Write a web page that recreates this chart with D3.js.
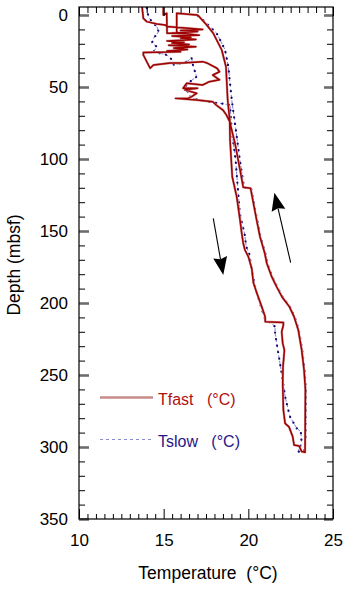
<!DOCTYPE html>
<html><head><meta charset="utf-8">
<script src="https://cdn.jsdelivr.net/npm/d3@7"></script>
<style>
body{margin:0;background:#fff}
svg{display:block}
text{font-family:"Liberation Sans",Arial,Helvetica,sans-serif}
</style>
</head><body>
<svg id="c" width="349" height="590"></svg>
<script>
// ---- data (depth in mbsf, temperature in °C) ----
const fastDownDepth = [-6,2.3,4.6,6.2,7,8,9.5,10,10.8,11.5,12.5,13,14,14.6,15.5,16,17,18,19,19.5,20.5,21,22,23,24,25,25.5,26,27.8,37,34.7,33.3,33.3,32.4,33.3,37,39.4,41.7,45,46.3,48.6,47.4,50.9,50.9,52,54.4,56.7,57.9,57.9,59,60.2,62.5,66,69.4,74,86.8,112.3,126,142.4,151.6,158.5,163.2,167.8,176,186,193,202.5,209.5,213,213.5,215.3,220,228,232.6,244,255.8,274.3,283.6,286,292.8,298.6,299.3,303.2,303.7];
const fastDownTemp  = [13.72,13.8,14.0,14.6,15.1,15.2,16.8,17.3,16.0,17.0,15.5,16.3,17.1,15.5,16.6,16.0,16.9,15.2,16.2,15.5,16.5,15.3,16.9,15.6,16.4,15.2,16.0,13.8,13.8,14.2,14.4,15.4,16.1,17.3,17.55,18.15,18.3,17.9,18.3,17.7,17.3,16.36,16.15,17.0,16.25,16.95,16.65,16.45,15.7,16.95,17.9,18.1,18.5,18.7,18.9,18.92,19.05,19.31,19.51,19.61,19.7,19.8,20.0,20.2,20.3,20.5,20.79,20.99,21.0,22.07,22.07,21.97,22.03,22.13,22.05,22.03,22.07,22.17,22.4,22.62,22.7,23.0,23.15,23.35];
const fastUpDepth = [303.7,260,246.5,232.6,218.8,209.5,202.5,196,188.7,181.7,172.4,165.5,154,142.4,120.3,119.7,107.6,89,75.2,59,35.9,24.3,12.7,6.9,0.5,0,-1.2,12.7,12.7,-1.2,0,-6];
const fastUpTemp  = [23.35,23.37,23.29,23.15,22.95,22.7,22.42,22.0,21.67,21.38,21.09,20.97,20.69,20.49,20.13,19.7,19.51,19.21,18.92,18.78,18.68,18.43,17.93,17.54,17.05,16.97,15.77,15.77,15.2,15.18,14.98,14.98];

const slowDownDepth = [-5,1.2,4.6,8.1,11.6,16.2,19.7,22,25.5,27.8,31.2,34.7,32.4,30,35.9,42.8,46.3,49.8,54.4,57.9,60.2,61.3,62.5,68.3,80,101,138,152,161,165.5,177,188.7,200.2,210,212.5,214,216.5,221,235,248.8,265,279,287,289.4,297.4,301,303.2];
const slowDownTemp  = [14.0,14.1,14.3,14.6,14.7,14.4,14.3,14.6,14.4,15.2,15.5,15.6,16.36,16.65,16.75,16.95,16.55,16.26,16.46,16.65,17.54,18.33,18.92,18.95,19.02,19.25,19.5,19.78,19.88,20.05,20.2,20.4,20.69,20.95,21.1,21.38,21.58,21.58,21.77,21.97,22.17,22.46,22.86,23.1,23.15,23.0,22.95];
const slowUpDepth = [303,295,260,246.5,232.6,218.8,209.5,202.5,196,188.7,181.7,172.4,165.5,154,142.4,120.3,120,100.7,75.2,59,36,24,12.7,3.5,0];
const slowUpTemp  = [23.3,23.38,23.4,23.32,23.18,22.98,22.73,22.45,22.03,21.7,21.41,21.12,21.0,20.72,20.52,20.16,19.75,19.5,19.21,19.02,18.82,18.62,18.13,17.33,16.95];

const xMajor = [10,15,20,25];
const yMajor = [0,50,100,150,200,250,300,350];
const legendItems = ["Tfast", "Tslow"];
const legendUnit = "(°C)";
// annotation arrows: [tempStart, depthStart, tempEnd, depthEnd]
const arrowDown = [17.93,141.2,18.52,180.6];
const arrowUp = [22.5,172,21.54,123.4];

// ---- layout ----
const L = 79, R = 333, T0 = 7, B = 519;
const svg = d3.select("#c");
const x = d3.scaleLinear().domain([10,25]).range([L,R]);
const y = d3.scaleLinear().domain([0,350]).range([15,B]);

svg.append("defs").append("clipPath").attr("id","clip")
  .append("rect").attr("x",L).attr("y",T0).attr("width",R-L).attr("height",B-T0);

const zip = (d,t) => d.map((v,i)=>[t[i],v]);
const fast = zip(fastDownDepth,fastDownTemp).concat(zip(fastUpDepth,fastUpTemp));
const slow = zip(slowDownDepth,slowDownTemp).concat(zip(slowUpDepth,slowUpTemp));
const line = d3.line().x(d=>x(d[0])).y(d=>y(d[1]));

const plot = svg.append("g").attr("clip-path","url(#clip)");
// Tslow: light dashed line with dark dots
plot.append("path").attr("d",line(slow)).attr("fill","none")
  .attr("stroke","#7f7fd8").attr("stroke-width",1).attr("stroke-dasharray","3,2.5");
plot.append("path").attr("d",line(slow)).attr("fill","none")
  .attr("stroke","#1a0870").attr("stroke-width",2.2).attr("stroke-linecap","round")
  .attr("stroke-dasharray","0.1,6.5");
// Tfast
plot.append("path").attr("d",line(fast)).attr("fill","none")
  .attr("stroke","#d4a0a0").attr("stroke-width",2.4).attr("stroke-linejoin","round");
plot.append("path").attr("d",line(fast)).attr("fill","none")
  .attr("stroke","#9e0000").attr("stroke-width",1.5).attr("stroke-linejoin","round");

// ---- axes ----
const majorColor = "#6e6e6e";
function styleAxis(g, major){
  g.select(".domain").remove();
  g.selectAll(".tick line").attr("stroke", major ? majorColor : "#000")
    .attr("stroke-width", major ? 2.6 : 1);
  g.selectAll("text").attr("font-size","17px").attr("fill","#000")
    .attr("font-family","'Liberation Sans',Arial,Helvetica,sans-serif");
}
const yMinor = d3.range(0,351,10).filter(v=>v%50!==0);
const xMinor = d3.range(10,25.01,0.5).filter(v=>Math.abs(v%5)>1e-6);

svg.append("g").attr("transform",`translate(${L},0)`)
  .call(d3.axisLeft(y).tickValues(yMinor).tickSize(-6).tickFormat("")).call(g=>styleAxis(g,false));
svg.append("g").attr("transform",`translate(${L},0)`)
  .call(d3.axisLeft(y).tickValues(yMajor).tickSize(-10).tickPadding(11)).call(g=>styleAxis(g,true));
svg.append("g").attr("transform",`translate(${R},0)`)
  .call(d3.axisRight(y).tickValues(yMinor).tickSize(-6).tickFormat("")).call(g=>styleAxis(g,false));
svg.append("g").attr("transform",`translate(${R},0)`)
  .call(d3.axisRight(y).tickValues(yMajor).tickSize(-9).tickFormat("")).call(g=>styleAxis(g,true));
svg.append("g").attr("transform",`translate(0,${B})`)
  .call(d3.axisBottom(x).tickValues(xMinor).tickSize(-5).tickFormat("")).call(g=>styleAxis(g,false));
svg.append("g").attr("transform",`translate(0,${B})`)
  .call(d3.axisBottom(x).tickValues(xMajor).tickSize(-10).tickPadding(15)).call(g=>styleAxis(g,false));
svg.append("g").attr("transform",`translate(0,${T0})`)
  .call(d3.axisTop(x).tickValues(xMinor).tickSize(-6).tickFormat("")).call(g=>styleAxis(g,false));
svg.append("g").attr("transform",`translate(0,${T0})`)
  .call(d3.axisTop(x).tickValues(xMajor).tickSize(-9).tickFormat("")).call(g=>styleAxis(g,false));

svg.append("rect").attr("x",L).attr("y",T0).attr("width",R-L).attr("height",B-T0)
  .attr("fill","none").attr("stroke","#000").attr("stroke-width",1.2);

// axis titles
svg.append("text").attr("x",(L+R)/2+2).attr("y",579).attr("text-anchor","middle")
  .attr("font-size","17.5px").style("white-space","pre").text("Temperature  (°C)");
svg.append("text").attr("transform",`translate(20,${265}) rotate(-90)`).attr("text-anchor","middle")
  .attr("font-size","17.5px").text("Depth (mbsf)");

// legend
const lg = svg.append("g");
lg.append("line").attr("x1",100).attr("x2",153).attr("y1",397.5).attr("y2",397.5)
  .attr("stroke","#c98a8a").attr("stroke-width",2.5);
lg.append("text").attr("x",158).attr("y",405).attr("font-size","16px").attr("fill","#b01010")
  .style("white-space","pre").text(legendItems[0]+"   "+legendUnit);
lg.append("line").attr("x1",100).attr("x2",153).attr("y1",439.5).attr("y2",439.5)
  .attr("stroke","#8a8ad6").attr("stroke-width",1).attr("stroke-dasharray","3,3");
lg.append("text").attr("x",158).attr("y",447).attr("font-size","16px").attr("fill","#2a1585")
  .style("white-space","pre").text(legendItems[1]+"   "+legendUnit);

// arrows
function arrow(a){
  const x1=x(a[0]), y1=y(a[1]), x2=x(a[2]), y2=y(a[3]);
  const dx=x2-x1, dy=y2-y1, len=Math.hypot(dx,dy), ux=dx/len, uy=dy/len;
  const hl=18, hw=7;
  const bx=x2-ux*hl, by=y2-uy*hl;
  svg.append("line").attr("x1",x1).attr("y1",y1).attr("x2",bx+ux*2).attr("y2",by+uy*2)
    .attr("stroke","#000").attr("stroke-width",1.1);
  svg.append("path").attr("d",`M${x2},${y2}L${bx-uy*hw},${by+ux*hw}L${bx+ux*2},${by+uy*2}L${bx+uy*hw},${by-ux*hw}Z`)
    .attr("fill","#000");
}
arrow(arrowDown);
arrow(arrowUp);
</script>
</body></html>
